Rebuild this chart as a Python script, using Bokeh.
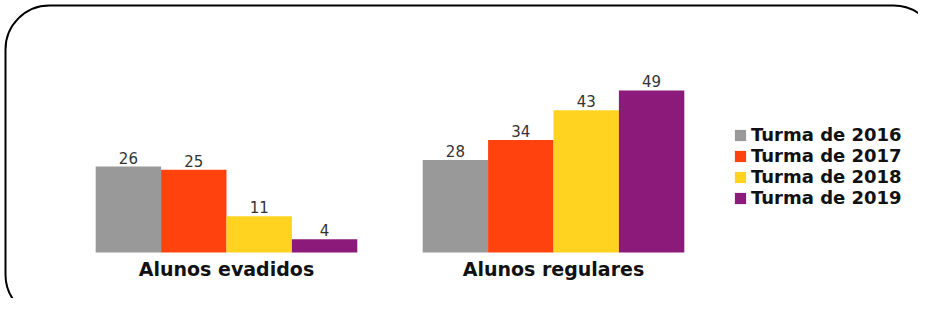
from bokeh.plotting import figure
from bokeh.models import (ColumnDataSource, Range1d, FixedTicker, Legend, LegendItem,
                          BoxAnnotation, LabelSet)
from bokeh.embed import file_html
from bokeh.resources import INLINE
from bokeh.core.properties import value

categories = ["Alunos evadidos", "Alunos regulares"]
series = ["Turma de 2016", "Turma de 2017", "Turma de 2018", "Turma de 2019"]
turma_2016 = [26, 28]
turma_2017 = [25, 34]
turma_2018 = [11, 43]
turma_2019 = [4, 49]
series_values = [turma_2016, turma_2017, turma_2018, turma_2019]
colors = ["#999999", "#ff420e", "#ffd320", "#8b1a7b"]

W, H = 918, 298
p = figure(width=W, height=H, output_backend="svg", toolbar_location=None,
           x_range=Range1d(-0.6911, 2.1162), y_range=Range1d(-13.914, 76.22),
           y_axis_location=None,
           min_border_left=0, min_border_right=0, min_border_top=0, min_border_bottom=0)
p.outline_line_color = None
p.xgrid.visible = False
p.ygrid.visible = False
p.background_fill_color = "white"

n = len(series)
bw = 0.8 / n
items = []
for i, (name, vals) in enumerate(zip(series, series_values)):
    off = -0.4 + bw * (i + 0.5)
    src = ColumnDataSource(dict(x=[k + off for k in range(len(categories))],
                                top=vals, lab=[str(v) for v in vals]))
    r = p.vbar(x="x", top="top", width=bw, source=src, fill_color=colors[i], line_color=None)
    items.append(LegendItem(label=name, renderers=[r]))
    p.add_layout(LabelSet(x="x", y="top", text="lab", source=src, y_offset=3,
                          text_align="center", text_baseline="bottom",
                          text_font=value("DejaVu Sans"), text_font_size="15px",
                          text_color="#333333"))

ax = p.xaxis[0]
ax.fixed_location = 0
ax.ticker = FixedTicker(ticks=list(range(len(categories))))
ax.major_label_overrides = {i: c for i, c in enumerate(categories)}
ax.axis_line_color = None
ax.major_tick_line_color = None
ax.minor_tick_line_color = None
ax.major_tick_out = 0
ax.major_tick_in = 0
ax.major_label_standoff = 6
ax.major_label_text_font = "DejaVu Sans"
ax.major_label_text_font_style = "bold"
ax.major_label_text_font_size = "19px"
ax.major_label_text_color = "#111111"

legend = Legend(items=items, location=(733, 90), glyph_width=14, glyph_height=14,
                label_standoff=4, padding=0, margin=0, spacing=0, label_height=19,
                border_line_color=None, background_fill_alpha=0,
                label_text_font="DejaVu Sans", label_text_font_style="bold",
                label_text_font_size="18px", label_text_color="#111111")
p.add_layout(legend)

border = BoxAnnotation(left=5, right=937, top=293, bottom=-20,
                       left_units="screen", right_units="screen",
                       top_units="screen", bottom_units="screen",
                       fill_alpha=0, line_color="black", line_alpha=1.0,
                       line_width=2, border_radius=44)
p.add_layout(border)

open("out.html", "w").write(file_html(p, INLINE))
